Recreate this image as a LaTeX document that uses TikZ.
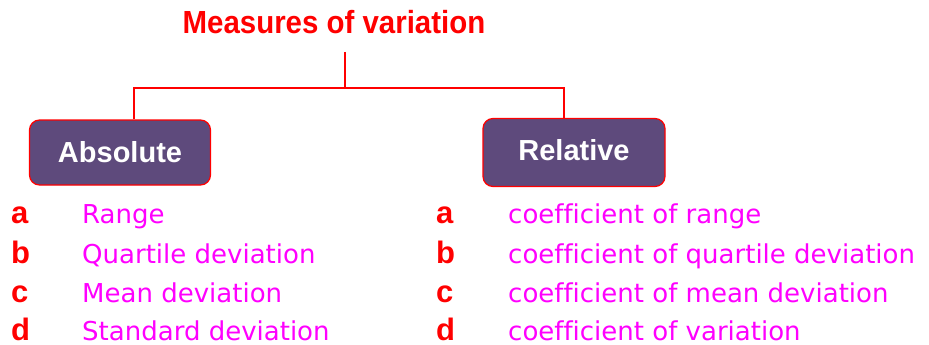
\documentclass[tikz,border=0pt]{standalone}
\usepackage{fontspec}
\setmainfont{Liberation Sans}
\newfontfamily\itemfont[Ligatures={NoCommon}]{DejaVu Sans}
\newfontfamily\titlefont[FakeStretch=0.92]{Liberation Sans}
\definecolor{tred}{HTML}{FF0000}
\definecolor{tmag}{HTML}{FF00FF}
\definecolor{tpurple}{HTML}{5E4A7C}
\begin{document}
\begin{tikzpicture}[x=1pt,y=-1pt,
  titlestyle/.style={inner sep=0pt,anchor=base,text=tred,font=\titlefont\fontsize{32}{32}\selectfont\bfseries},
  boxstyle/.style={draw=tred,line width=1.2pt,fill=tpurple,rounded corners=10pt,text=white,font=\fontsize{29}{29}\selectfont\bfseries},
  letterstyle/.style={inner sep=0pt,anchor=base west,text=tred,font=\fontsize{31}{31}\selectfont\bfseries},
  itemstyle/.style={inner sep=0pt,anchor=base west,text=tmag,font=\fontsize{26}{26}\selectfont\itemfont},
  conn/.style={draw=tred,line width=2pt}]
\useasboundingbox (0,0) rectangle (929,345);
\node[titlestyle] (title) at (334,34) {Measures of variation};
\node[boxstyle,minimum width=181pt,minimum height=65pt] (abs) at (120,152.5) {Absolute};
\node[boxstyle,minimum width=182pt,minimum height=68pt] (rel) at (574,152.5) {\raisebox{5pt}{Relative}};
\coordinate (top) at (345,52);
\coordinate (j) at (345,88);
\draw[conn] (top) -- (j);
\draw[conn] ([xshift=14pt]abs.north) |- (j) -| ([xshift=-10pt]rel.north);
% left list
\node[letterstyle] (la) at (11,223) {a};
\node[letterstyle] (lb) at (11,263) {b};
\node[letterstyle] (lc) at (11,302) {c};
\node[letterstyle] (ld) at (11,340) {d};
\node[itemstyle] (ia) at (82,223) {Range};
\node[itemstyle] (ib) at (82,263) {Quartile deviation};
\node[itemstyle] (ic) at (82,302) {Mean deviation};
\node[itemstyle] (id) at (82,340) {Standard deviation};
% right list
\node[letterstyle] (ra) at (436,223) {a};
\node[letterstyle] (rb) at (436,263) {b};
\node[letterstyle] (rc) at (436,302) {c};
\node[letterstyle] (rd) at (436,340) {d};
\node[itemstyle] (ja) at (508,223) {coefficient of range};
\node[itemstyle] (jb) at (508,263) {coefficient of quartile deviation};
\node[itemstyle] (jc) at (508,302) {coefficient of mean deviation};
\node[itemstyle] (jd) at (508,340) {coefficient of variation};
\end{tikzpicture}
\end{document}
